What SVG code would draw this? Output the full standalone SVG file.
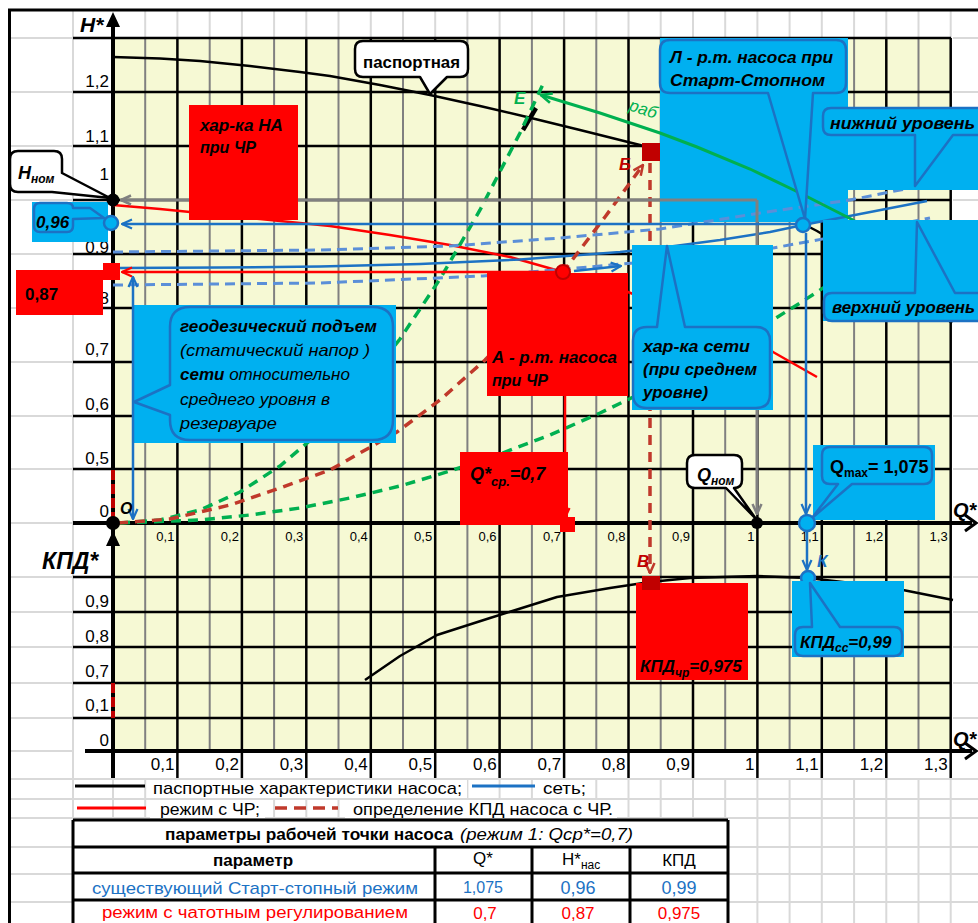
<svg xmlns="http://www.w3.org/2000/svg" width="978" height="923" viewBox="0 0 978 923">
<defs>
<style>
text{font-family:'Liberation Sans',Arial,sans-serif;fill:#000}
.bi{font-weight:bold;font-style:italic}
.b{font-weight:bold}
.i{font-style:italic}
.ax{font-size:17px;text-anchor:end}
.xs{font-size:13px;text-anchor:end}
.xl{font-size:17px;text-anchor:end}
.c17{font-size:17px}
.cell{fill:none;stroke:#D9D9D9;stroke-width:2}
.gg{fill:none;stroke:#808080;stroke-width:2}
.gb{fill:none;stroke:#000;stroke-width:2.5}
.blue{fill:none;stroke:#1C72C4;stroke-width:2.5}
.dblue{fill:none;stroke:#5B8FD8;stroke-width:3;stroke-dasharray:10 6}
.red{fill:none;stroke:#FF0000;stroke-width:2.5}
.dred{fill:none;stroke:#C0392B;stroke-width:3.5;stroke-dasharray:10 7}
.green{fill:none;stroke:#00B050;stroke-width:3}
.dgreen{fill:none;stroke:#00B050;stroke-width:3.5;stroke-dasharray:10 7}
.gray{fill:none;stroke:#808080;stroke-width:3}
.bfill{fill:#00B0F0}
.rfill{fill:#FF0000}
.wline{fill:#fff;stroke:#000;stroke-width:2.5}
.tb{fill:none;stroke:#000;stroke-width:3}
.bt{fill:#1C72C4}
.rt{fill:#FF0000}
</style>
<marker id="aB" viewBox="0 0 12 12" refX="11" refY="6" markerWidth="12" markerHeight="12" markerUnits="userSpaceOnUse" orient="auto-start-reverse"><path d="M1,1.5 L11,6 L1,10.5" fill="none" stroke="#1C72C4" stroke-width="2.2"/></marker>
<marker id="aR" viewBox="0 0 12 12" refX="11" refY="6" markerWidth="12" markerHeight="12" markerUnits="userSpaceOnUse" orient="auto-start-reverse"><path d="M1,1.5 L11,6 L1,10.5" fill="none" stroke="#FF0000" stroke-width="2.2"/></marker>
<marker id="aDR" viewBox="0 0 12 12" refX="11" refY="6" markerWidth="12" markerHeight="12" markerUnits="userSpaceOnUse" orient="auto-start-reverse"><path d="M1,1.5 L11,6 L1,10.5" fill="none" stroke="#C0392B" stroke-width="2.5"/></marker>
<marker id="aG" viewBox="0 0 12 12" refX="11" refY="6" markerWidth="13" markerHeight="13" markerUnits="userSpaceOnUse" orient="auto-start-reverse"><path d="M1,1.5 L11,6 L1,10.5" fill="none" stroke="#00B050" stroke-width="2.5"/></marker>
<marker id="aGr" viewBox="0 0 12 12" refX="11" refY="6" markerWidth="12" markerHeight="12" markerUnits="userSpaceOnUse" orient="auto-start-reverse"><path d="M1,1.5 L11,6 L1,10.5" fill="none" stroke="#808080" stroke-width="2.5"/></marker>
</defs>

<!-- sheet background and cell grid -->
<rect x="0" y="0" width="978" height="923" fill="#fff"/>
<path class="cell" d="M10,38H73 M10,92H73 M10,146H73 M10,200H73 M10,254H73 M10,308H73 M10,362H73 M10,416H73 M10,469H73 M10,523H73 M10,577H73 M10,612H73 M10,647H73 M10,683H73 M10,718H73 M10,751H73
M953,38H978 M953,92H978 M953,146H978 M953,200H978 M953,254H978 M953,308H978 M953,362H978 M953,416H978 M953,469H978 M953,577H978 M953,612H978 M953,647H978 M953,683H978 M953,718H978
M10,779H978 M10,799H978 M10,818H978 M10,847H978 M10,874H978 M10,902H978
M73,10V923
M145.2,10V38 M177.4,10V38 M209.7,10V38 M241.9,10V38 M274.1,10V38 M306.3,10V38 M338.5,10V38 M370.8,10V38 M403,10V38 M435.2,10V38 M467.4,10V38 M499.6,10V38 M531.9,10V38 M564.1,10V38 M596.3,10V38 M628.5,10V38 M660.7,10V38 M693,10V38 M725.2,10V38 M757.4,10V38 M789.6,10V38 M821.8,10V38 M854.1,10V38 M886.3,10V38 M918.5,10V38 M950.7,10V38
M113,779V923 M145.2,779V923 M177.4,779V923 M209.7,779V923 M241.9,779V923 M274.1,779V923 M306.3,779V923 M338.5,779V923 M370.8,779V923 M403,779V923 M435.2,779V923 M467.4,779V923 M499.6,779V923 M531.9,779V923 M564.1,779V923 M596.3,779V923 M628.5,779V923 M660.7,779V923 M693,779V923 M725.2,779V923 M757.4,779V923 M789.6,779V923 M821.8,779V923 M854.1,779V923 M886.3,779V923 M918.5,779V923 M950.7,779V923"/>
<path d="M8,10H978 M9.5,10V923" fill="none" stroke="#000" stroke-width="3"/>

<!-- plot area -->
<rect x="113" y="38" width="838" height="713" fill="#F6F9D4"/>
<path class="gg" d="M145.2,38V751 M209.7,38V751 M274.1,38V751 M338.5,38V751 M403,38V751 M467.4,38V751 M531.9,38V751 M596.3,38V751 M660.7,38V751 M725.2,38V751 M789.6,38V751 M854.1,38V751 M918.5,38V751"/>
<path class="gb" d="M177.4,38V778 M241.9,38V778 M306.3,38V778 M370.8,38V778 M435.2,38V778 M499.6,38V778 M564.1,38V778 M628.5,38V778 M693,38V778 M757.4,38V778 M821.8,38V778 M886.3,38V778 M950.7,38V778
M73,38H951 M73,92H951 M73,146H951 M73,200H951 M73,254H951 M73,308H951 M73,362H951 M73,416H951 M73,469H951 M73,577H951 M73,612H951 M73,647H951 M73,683H951 M73,718H951"/>

<!-- axes -->
<g id="axes">
<path d="M113,24V778 M73,523H972 M85,751H972" fill="none" stroke="#000" stroke-width="4"/>
<polygon points="113,12 106,27 120,27" fill="#000"/>
<polygon points="113,531 106,546 120,546" fill="#000"/>
<path d="M965,515 L976,523 L965,531 M965,743 L976,751 L965,759" fill="none" stroke="#000" stroke-width="3"/>
<text class="bi" x="80" y="32" font-size="21">H*</text>
<text class="bi" x="42" y="569" font-size="23">КПД*</text>
<text class="bi" x="953" y="517" font-size="20">Q*</text>
<text class="bi" x="953" y="746" font-size="20">Q*</text>
<text class="ax" x="109" y="87">1,2</text>
<text class="ax" x="109" y="142">1,1</text>
<text class="ax" x="109" y="180">1</text>
<text class="ax" x="109" y="253">0,9</text>
<text class="ax" x="109" y="304">0,8</text>
<text class="ax" x="109" y="355">0,7</text>
<text class="ax" x="109" y="410">0,6</text>
<text class="ax" x="109" y="464">0,5</text>
<text class="ax" x="109" y="517">0</text>
<text class="ax" x="109" y="607">0,9</text>
<text class="ax" x="109" y="642">0,8</text>
<text class="ax" x="109" y="677">0,7</text>
<text class="ax" x="109" y="711">0,1</text>
<text class="ax" x="109" y="746">0</text>
<text class="xs" x="174.4" y="541">0,1</text>
<text class="xs" x="238.9" y="541">0,2</text>
<text class="xs" x="303.3" y="541">0,3</text>
<text class="xs" x="367.8" y="541">0,4</text>
<text class="xs" x="432.2" y="541">0,5</text>
<text class="xs" x="496.6" y="541">0,6</text>
<text class="xs" x="561.1" y="541">0,7</text>
<text class="xs" x="625.5" y="541">0,8</text>
<text class="xs" x="690" y="541">0,9</text>
<text class="xs" x="754.4" y="541">1</text>
<text class="xs" x="818.8" y="541">1,1</text>
<text class="xs" x="883.3" y="541">1,2</text>
<text class="xs" x="947.7" y="541">1,3</text>
<text class="xl" x="174.4" y="770">0,1</text>
<text class="xl" x="238.9" y="770">0,2</text>
<text class="xl" x="303.3" y="770">0,3</text>
<text class="xl" x="367.8" y="770">0,4</text>
<text class="xl" x="432.2" y="770">0,5</text>
<text class="xl" x="496.6" y="770">0,6</text>
<text class="xl" x="561.1" y="770">0,7</text>
<text class="xl" x="625.5" y="770">0,8</text>
<text class="xl" x="690" y="770">0,9</text>
<text class="xl" x="754.4" y="770">1</text>
<text class="xl" x="818.8" y="770">1,1</text>
<text class="xl" x="883.3" y="770">1,2</text>
<text class="xl" x="947.7" y="770">1,3</text>
</g>

<!-- pump characteristic (passport) H and efficiency -->
<g id="passport">
<path d="M113,57 L160,58.5 L200,61 L250,66 L300,72 L330,76 L380,85 L430,95 L480,106 L527,117 L580,130 L640,145 L700,169 L757,200 L817,231 L885,272 L952,323" fill="none" stroke="#000" stroke-width="2.5" stroke-linejoin="round"/>
<path d="M365,680 L400,656 L437,635 L490,618 L557,597 L610,588 L650,582 L690,578 L757,576 L808,578 L860,584 L903,590 L953,600" fill="none" stroke="#000" stroke-width="2.5" stroke-linejoin="round"/>
<path d="M523,130 L536,108" stroke="#000" stroke-width="4.5"/>
</g>
<text class="i" x="628" y="110" font-size="17" style="fill:#00B050" transform="rotate(18 628 110)">раб</text>

<!-- operating point Л callout background -->
<g id="callout-L-fill"><rect class="bfill" x="660" y="38" width="188" height="184"/></g>

<g id="connectors">
<!-- reduced-speed pump curve -->
<path class="red" d="M113,205 L160,209 L200,213 L260,219 L330,226 L390,235 L450,245 L510,257 L563,272 L620,289 L670,308 L720,328 L773,352 L817,377" stroke-linejoin="round"/>
<!-- system curves -->
<path class="blue" d="M118,268 L220,267.5 L320,266.5 L420,264 L520,259.5 L620,252 L667,247 L720,240 L770,232 L803,225 L860,214 L927,201" stroke-linejoin="round"/>
<path class="dblue" d="M113,252 L320,250 L450,246 L560,238 L660,229 L760,213 L850,200 L910,188"/>
<path class="dblue" d="M113,285 L320,283 L483,276 L600,266 L700,257 L773,248 L850,234 L930,218"/>
<!-- similarity parabolas -->
<path class="dgreen" d="M120,523 L160,520 L200,510 L240,492 L280,466 L320,432 L360,389 L400,339 L440,279 L480,210 L520,133 L545,80"/>
<path class="dgreen" d="M120,523 L200,520 L250,515 L300,508 L350,498 L400,486 L450,471 L500,454 L550,435 L600,413 L650,389 L700,363 L750,334 L800,303 L840,277"/>
<path class="green" d="M880,236 L853,220 L800,193 L750,169 L697,147 L660,133 L600,113 L541,95" marker-end="url(#aG)"/>
<path class="dred" d="M118,523 L170,519 L230,505 L280,488 L330,470 L397,432 L440,400 L485,360 L525,318 L563,272 L605,217 L643,165" marker-end="url(#aDR)"/>
<path class="dred" d="M650,163 L650,573" marker-end="url(#aDR)"/>
<!-- nominal point projections -->
<path class="gray" d="M757,200 L121,200" marker-end="url(#aGr)"/>
<path class="gray" d="M757,200 L757,514" marker-end="url(#aGr)"/>
<!-- start-stop operating point projections -->
<path class="blue" d="M803,224 L122,224" marker-end="url(#aB)"/>
<path class="blue" d="M806,233 L806,514" marker-end="url(#aB)"/>
<path class="blue" d="M807,532 L807,570" marker-end="url(#aB)"/>
<path class="blue" d="M574,271 L621,266" marker-end="url(#aB)"/>
<!-- VFD operating point projections -->
<path class="red" d="M558,272 L122,272" marker-end="url(#aR)"/>
<path class="red" d="M565,280 L565,518" marker-end="url(#aR)"/>
</g>

<!-- Л callout outline and text -->
<g id="callout-L">
<path d="M670,40 H836 Q846,40 846,50 V83 Q846,93 836,93 H813 L805,219 L768,93 H670 Q660,93 660,83 V50 Q660,40 670,40 Z" fill="#00B0F0" stroke="#1C72C4" stroke-width="2.5" stroke-linejoin="round"/>
<text class="bi c17" x="670" y="63" textLength="163" lengthAdjust="spacingAndGlyphs">Л - р.т. насоса при</text>
<text class="bi c17" x="670" y="86" textLength="155" lengthAdjust="spacingAndGlyphs">Старт-Стопном</text>
</g>

<g id="callout-passport">
<path class="wline" d="M363,41 H460 Q468,41 468,49 V69 Q468,77 460,77 H447 L430,94 L420,77 H363 Q355,77 355,69 V49 Q355,41 363,41 Z" stroke-linejoin="round"/>
<text class="b" x="363" y="68" font-size="16" textLength="97" lengthAdjust="spacingAndGlyphs">паспортная</text>
</g>

<g id="callout-na-chr">
<rect class="rfill" x="189" y="105" width="109" height="115"/>
<text class="bi c17" x="200" y="131" textLength="83" lengthAdjust="spacingAndGlyphs">хар-ка НА</text>
<text class="bi c17" x="200" y="153" textLength="56" lengthAdjust="spacingAndGlyphs">при ЧР</text>
</g>

<g id="callout-lower-level">
<rect class="bfill" x="822" y="107" width="156" height="83"/>
<path d="M831,108 H995 V135 H953 L915,186 L915,135 H831 Q823,135 823,127 V116 Q823,108 831,108 Z" fill="#00B0F0" stroke="#1C72C4" stroke-width="2.5" stroke-linejoin="round"/>
<text class="bi c17" x="830" y="129" textLength="145" lengthAdjust="spacingAndGlyphs">нижний уровень</text>
</g>

<g id="callout-upper-level">
<rect class="bfill" x="823" y="220" width="155" height="101"/>
<path d="M832,293 H915 L917,222 L955,293 H995 V321 H832 Q824,321 824,313 V301 Q824,293 832,293 Z" fill="#00B0F0" stroke="#1C72C4" stroke-width="2.5" stroke-linejoin="round"/>
<text class="bi c17" x="832" y="313" textLength="143" lengthAdjust="spacingAndGlyphs">верхний уровень</text>
</g>

<g id="callout-network">
<rect class="bfill" x="632" y="245" width="141" height="165"/>
<path d="M647,327 H657 L667,246 L685,327 H756 Q770,327 770,341 V394 Q770,408 756,408 H647 Q633,408 633,394 V341 Q633,327 647,327 Z" fill="#00B0F0" stroke="#1C72C4" stroke-width="2.5" stroke-linejoin="round"/>
<text class="bi c17" x="643" y="352" textLength="107" lengthAdjust="spacingAndGlyphs">хар-ка  сети</text>
<text class="bi c17" x="643" y="375" textLength="114" lengthAdjust="spacingAndGlyphs">(при среднем</text>
<text class="bi c17" x="643" y="398" textLength="65" lengthAdjust="spacingAndGlyphs">уровне)</text>
</g>

<g id="callout-geodesic">
<rect class="bfill" x="133" y="305" width="263" height="138"/>
<path d="M190,307 H373 Q393,307 393,327 V420 Q393,440 373,440 H190 Q170,440 170,420 V415 L134,402 L170,385 V327 Q170,307 190,307 Z" fill="#00B0F0" stroke="#1C72C4" stroke-width="2.5" stroke-linejoin="round"/>
<text class="bi c17" x="180" y="332" textLength="197" lengthAdjust="spacingAndGlyphs">геодезический подъем</text>
<text class="i c17" x="180" y="356" textLength="190" lengthAdjust="spacingAndGlyphs">(статический напор )</text>
<text class="i c17" x="180" y="380"><tspan font-weight="bold">сети</tspan> относительно</text>
<text class="i c17" x="180" y="405" textLength="150" lengthAdjust="spacingAndGlyphs">среднего уровня в</text>
<text class="i c17" x="180" y="429" textLength="97" lengthAdjust="spacingAndGlyphs">резервуаре</text>
</g>
<path class="blue" d="M133,277 L133,519" marker-start="url(#aB)" marker-end="url(#aB)"/>

<g id="callout-A">
<rect class="rfill" x="487" y="273" width="141" height="123"/>
<text class="bi c17" x="492" y="363" textLength="125" lengthAdjust="spacingAndGlyphs">А - р.т. насоса</text>
<text class="bi c17" x="492" y="386" textLength="56" lengthAdjust="spacingAndGlyphs">при ЧР</text>
</g>

<g id="callout-Qsr">
<rect class="rfill" x="460" y="452" width="108" height="73"/>
<text class="bi" x="470" y="480" font-size="18">Q*<tspan font-size="13" dy="6">ср.</tspan><tspan dy="-6">=0,7</tspan></text>
</g>

<g id="callout-Qmax">
<rect class="bfill" x="813" y="445" width="122" height="75"/>
<path d="M830,447 H924 Q932,447 932,455 V476 Q932,484 924,484 H852 L812,518 L838,484 H830 Q822,484 822,476 V455 Q822,447 830,447 Z" fill="#00B0F0" stroke="#1C72C4" stroke-width="2.5" stroke-linejoin="round"/>
<text class="b" x="830" y="473" font-size="18">Q<tspan font-size="12" dy="4">max</tspan><tspan dy="-4">= 1,075</tspan></text>
</g>

<g id="callout-Qnom">
<path class="wline" d="M695,455 H734 Q742,455 742,463 V480 Q742,488 734,488 L756,519 L726,488 H695 Q687,488 687,480 V463 Q687,455 695,455 Z" stroke-linejoin="round"/>
<text class="bi" x="697" y="481" font-size="18">Q<tspan font-size="12" dy="4">ном</tspan></text>
</g>

<g id="callout-Hnom">
<path class="wline" d="M18,151 H54 Q62,151 62,159 V173 L110,198 L52,192 H18 Q10,192 10,184 V159 Q10,151 18,151 Z" stroke-linejoin="round"/>
<text class="bi" x="18" y="179" font-size="18">H<tspan font-size="12" dy="4">ном</tspan></text>
</g>

<g id="callout-096">
<rect class="bfill" x="32" y="202" width="76" height="40"/>
<path d="M40,203 H67 Q73,203 73,208 L90,208 L104,218 L73,219 V226 Q73,232 67,232 H40 Q34,232 34,226 V209 Q34,203 40,203 Z" fill="#00B0F0" stroke="#1C72C4" stroke-width="2.5" stroke-linejoin="round"/>
<text class="bi c17" x="36" y="228">0,96</text>
</g>

<g id="callout-087">
<rect class="rfill" x="16" y="270" width="87" height="45"/>
<text class="b c17" x="25" y="300">0,87</text>
</g>

<!-- efficiency point К (partly under its callout) -->
<circle cx="808" cy="578" r="7" fill="#00B0F0" stroke="#1C72C4" stroke-width="2.5"/>

<g id="callout-kpd-chr">
<rect class="rfill" x="636" y="583" width="112" height="97"/>
<text class="bi c17" x="640" y="672">КПД<tspan font-size="12" dy="5">чр</tspan><tspan dy="-5">=0,975</tspan></text>
</g>

<g id="callout-kpd-ss">
<rect class="bfill" x="792" y="581" width="112" height="76"/>
<path d="M803,627 H812 L810,583 L840,627 H894 Q902,627 902,635 V648 Q902,656 894,656 H803 Q795,656 795,648 V635 Q795,627 803,627 Z" fill="#00B0F0" stroke="#1C72C4" stroke-width="2.5" stroke-linejoin="round"/>
<text class="bi c17" x="800" y="648">КПД<tspan font-size="12" dy="4">сс</tspan><tspan dy="-4">=0,99</tspan></text>
</g>

<!-- red dashes on the ordinate -->
<path d="M113,470 V523 M113,683 V718" fill="none" stroke="#C00000" stroke-width="4" stroke-dasharray="10 4"/>

<!-- points -->
<g id="points">
<circle cx="113" cy="200" r="6.5" fill="#000"/>
<circle cx="111" cy="223" r="7" fill="#00B0F0" stroke="#1C72C4" stroke-width="2.5"/>
<rect x="103" y="263" width="17" height="17" fill="#FF0000"/>
<circle cx="113" cy="523" r="7" fill="#000"/>
<circle cx="757" cy="523" r="6" fill="#000"/>
<circle cx="803" cy="225" r="7" fill="#00B0F0" stroke="#1C72C4" stroke-width="2.5"/>
<circle cx="807" cy="523" r="8" fill="#00B0F0" stroke="#1C72C4" stroke-width="2.5"/>
<circle cx="563" cy="272" r="7" fill="#FF0000" stroke="#C00000" stroke-width="2"/>
<rect x="642" y="143" width="18" height="18" fill="#C00000"/>
<rect x="642" y="576" width="18" height="14" fill="#C00000"/>
<rect x="560" y="517" width="15" height="15" fill="#FF0000"/>
<text class="bi" x="120" y="514" font-size="16">О</text>
<text class="bi" x="514" y="104" font-size="17" style="fill:#00B050">Е</text>
<text class="bi" x="619" y="170" font-size="17" style="fill:#C00000">Б</text>
<text class="bi" x="637" y="567" font-size="17" style="fill:#C00000">В</text>
<text class="bi" x="817" y="567" font-size="17" style="fill:#1C72C4">К</text>
</g>

<!-- legend -->
<g id="legend">
<rect x="147" y="780" width="320" height="18" fill="#fff"/>
<rect x="539" y="780" width="50" height="18" fill="#fff"/>
<rect x="150" y="800" width="115" height="18" fill="#fff"/>
<rect x="345" y="800" width="272" height="18" fill="#fff"/>
<path d="M75,786H145" stroke="#000" stroke-width="3"/>
<text x="153" y="794" font-size="17" textLength="309" lengthAdjust="spacingAndGlyphs">паспортные характеристики насоса;</text>
<path d="M472,786H535" stroke="#1C72C4" stroke-width="3"/>
<text x="543" y="794" font-size="17" textLength="43" lengthAdjust="spacingAndGlyphs">сеть;</text>
<path d="M77,808H146" stroke="#FF0000" stroke-width="3"/>
<text x="160" y="815" font-size="17" textLength="100" lengthAdjust="spacingAndGlyphs">режим с ЧР;</text>
<path d="M275,808H338" stroke="#C0392B" stroke-width="3.5" stroke-dasharray="12 7"/>
<text x="353" y="815" font-size="17" textLength="260" lengthAdjust="spacingAndGlyphs">определение КПД насоса с ЧР.</text>
</g>

<!-- operating point table -->
<g id="table">
<rect x="73" y="820" width="655" height="110" fill="#fff"/>
<path class="tb" d="M73,820H728 M73,847H728 M73,873H728 M73,900H728 M73,820V923 M728,820V923 M435,847V923 M532,847V923 M630,847V923"/>
<text class="b" x="165" y="840" font-size="16" textLength="288" lengthAdjust="spacingAndGlyphs">параметры рабочей точки насоса</text>
<text class="i" x="460" y="840" font-size="16" textLength="173" lengthAdjust="spacingAndGlyphs">(режим 1: Qср*=0,7)</text>
<text class="b" x="253" y="866" font-size="17" text-anchor="middle">параметр</text>
<text x="483" y="864" font-size="17" text-anchor="middle">Q*</text>
<text x="562" y="865" font-size="17">H*<tspan font-size="12" dy="4">нас</tspan></text>
<text x="679" y="866" font-size="17" text-anchor="middle">КПД</text>
<text class="bt" x="92" y="894" font-size="17" textLength="326" lengthAdjust="spacingAndGlyphs">существующий Старт-стопный режим</text>
<text class="bt" x="483" y="893" font-size="16" text-anchor="middle">1,075</text>
<text class="bt" x="578" y="894" font-size="18" text-anchor="middle">0,96</text>
<text class="bt" x="679" y="894" font-size="18" text-anchor="middle">0,99</text>
<text class="rt" x="102" y="918" font-size="16" textLength="306" lengthAdjust="spacingAndGlyphs">режим с чатотным регулированием</text>
<text class="rt" x="485" y="919" font-size="17" text-anchor="middle">0,7</text>
<text class="rt" x="578" y="919" font-size="17" text-anchor="middle">0,87</text>
<text class="rt" x="679" y="919" font-size="17" text-anchor="middle">0,975</text>
</g>
</svg>
